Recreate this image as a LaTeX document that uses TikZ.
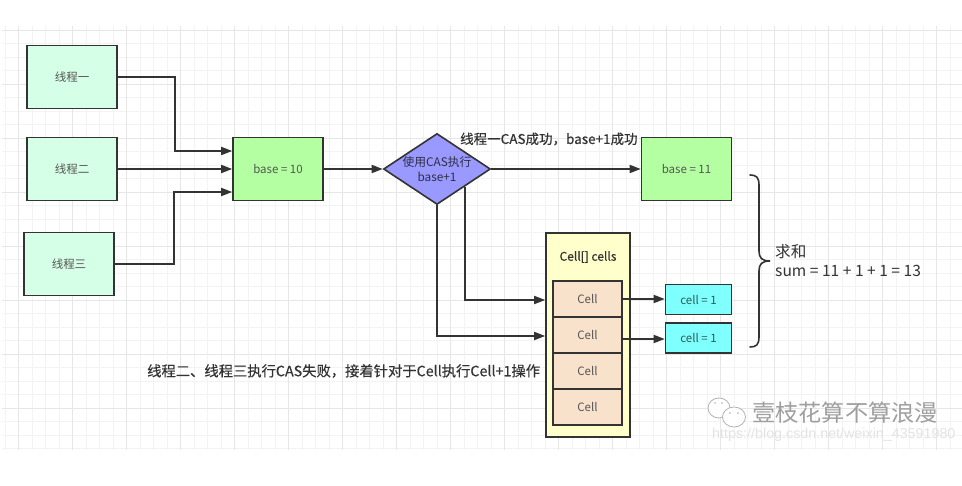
\documentclass[tikz,border=0pt]{standalone}
\usepackage{fontspec}
\setmainfont{Liberation Sans}
\newfontfamily\cjk{Noto Sans CJK SC}
\newfontfamily\cjkm[FakeBold=0.4]{Noto Sans CJK SC}
\usetikzlibrary{shapes.geometric,arrows.meta}
\definecolor{gridminor}{HTML}{F3F3F3}
\definecolor{gridmajor}{HTML}{E6E6E6}
\definecolor{ink}{HTML}{333333}
\definecolor{label}{HTML}{555555}
\definecolor{threadfill}{HTML}{D5FFE6}
\definecolor{basefill}{HTML}{B3FFA1}
\definecolor{casfill}{HTML}{9999FF}
\definecolor{arrayfill}{HTML}{FFFFCC}
\definecolor{cellfill}{HTML}{F9E2CC}
\definecolor{valfill}{HTML}{80FFFF}
% full-width comma used in the Chinese captions
\newcommand{\fwcomma}{\symbol{"FF0C}}
\tikzset{
  x=1pt,y=-1pt,
  box/.style={draw=ink,line width=1.6pt,rectangle,minimum width=90pt,minimum height=63pt,inner sep=0pt,font=\fontsize{11.5}{13}\cjk,text=label},
  thread/.style={box,fill=threadfill},
  basebox/.style={box,fill=basefill},
  cellbox/.style={box,minimum width=69pt,minimum height=36pt,fill=cellfill},
  valbox/.style={box,minimum width=66pt,minimum height=30pt,fill=valfill,text=ink!80!cyan},
  link/.style={draw=ink,line width=1.7pt,-{Triangle[length=11pt,width=8pt]}},
  caption/.style={font=\fontsize{13.5}{15}\cjkm,text=ink,inner sep=0pt},
}
\begin{document}
\begin{tikzpicture}
\useasboundingbox (0,0) rectangle (962,486);
\fill[white] (0,0) rectangle (962,486);
% background grid
\foreach \i in {0,...,70}{\draw[gridminor,line width=.6pt] ({4.8+13.5*\i},26) -- ({4.8+13.5*\i},450);}
\foreach \j in {0,...,31}{\draw[gridminor,line width=.6pt] (2,{30+13.5*\j}) -- (962,{30+13.5*\j});}
\foreach \i in {0,...,17}{\draw[gridmajor,line width=.7pt] ({18.3+54*\i},26) -- ({18.3+54*\i},450);}
\foreach \j in {0,...,7}{\draw[gridmajor,line width=.7pt] (2,{30+54*\j}) -- (962,{30+54*\j});}
% threads and shared base
\node[thread] (t1) at (72,77) {线程一};
\node[thread] (t2) at (72,169) {线程二};
\node[thread] (t3) at (69,264) {线程三};
\node[basebox] (b0) at (278,169) {base = 10};
\node[draw=ink,line width=1.6pt,diamond,aspect=1.5,fill=casfill,minimum width=107pt,minimum height=71pt,inner sep=0pt] (cas) at (437,169) {};
\node[font=\fontsize{11.8}{14.5}\cjk,text=ink!90!blue,align=center] (castext) at (437,169) {使用CAS执行\\base+1};
\node[basebox] (b1) at (686.5,169) {base = 11};
% cell array
\node[draw=ink,line width=1.6pt,fill=arrayfill,minimum width=84pt,minimum height=204pt,inner sep=0pt] (arr) at (588,335) {};
\node[font=\fontsize{12}{13}\cjkm,text=ink,inner sep=0pt] (arrt) at (588,257) {Cell[] cells};
\node[cellbox] (c1) at (587.5,299) {Cell};
\node[cellbox] (c2) at (587.5,335) {Cell};
\node[cellbox] (c3) at (587.5,371) {Cell};
\node[cellbox] (c4) at (587.5,407) {Cell};
\node[valbox] (v1) at (698.5,299.5) {cell = 1};
\node[valbox] (v2) at (698.5,338) {cell = 1};
% connectors
\coordinate (casLow) at (465,187);
\draw[link] (t1.east) -- (175,77) -- (175,151) -- (b0.west |- 0,151);
\draw[link] (t2.east) -- (b0.west);
\draw[link] (t3.east) -- (174,264) -- (174,192) -- (b0.west |- 0,192);
\draw[link] (b0.east) -- (cas.west);
\draw[link] (cas.east) -- (b1.west);
\draw[link] (casLow) -- (465,300) -- (arr.west |- 0,300);
\draw[link] (cas.south) -- (437,336) -- (arr.west |- 0,336);
\draw[link] (c1.east |- 0,299) -- (v1.west |- 0,299);
\draw[link] (c2.east |- 0,339) -- (v2.west |- 0,339);
% sum brace
\draw[ink,line width=1.6pt,line cap=round] (750,175) .. controls (756,175) and (759,177) .. (759,185) -- (759,251) .. controls (759,258) and (762,261) .. (770,261) .. controls (762,261) and (759,264) .. (759,271) -- (759,337) .. controls (759,345) and (756,347) .. (750,347);
% captions
\node[caption,anchor=west] (l1) at (460,139) {线程一CAS成功\fwcomma base+1成功};
\node[caption,anchor=west,font=\fontsize{14.3}{15}\cjkm] (l2) at (147,371) {线程二、线程三执行CAS失败\fwcomma 接着针对于Cell执行Cell+1操作};
\node[anchor=west,font=\fontsize{15.6}{19}\cjk,text=ink,align=left,inner sep=0pt] (l3) at (775,261) {求和\\sum = 11 + 1 + 1 = 13};
% watermark
\draw[gray!60,line width=.8pt,fill=white] (719,408) ellipse (11 and 10);
\draw[gray!60,line width=.8pt,fill=white] (734,417) ellipse (11.5 and 10);
\fill[gray!60] (715,403) circle (.9) (722,403) circle (.9) (730,413) circle (.9) (738,413) circle (.9);
\node[font=\fontsize{23.2}{26}\cjk,text=gray!75,anchor=west,inner sep=0pt] (wm) at (752,413) {壹枝花算不算浪漫};
\node[font=\fontsize{14.3}{16}\selectfont,text=gray!22,anchor=west,inner sep=0pt] (url) at (712,435) {https://blog.csdn.net/weixin\_43591980};
\end{tikzpicture}
\end{document}
